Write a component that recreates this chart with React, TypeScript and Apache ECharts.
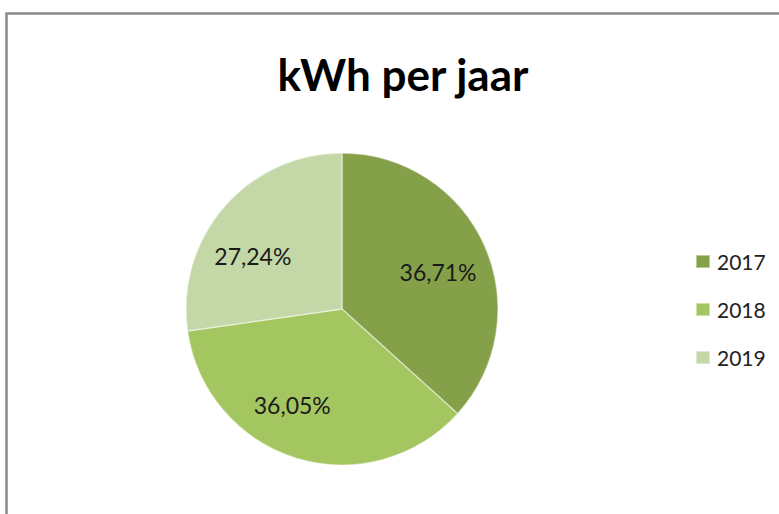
import React, { useEffect, useRef } from "react";
import * as echarts from "echarts";

const years = ["2017", "2018", "2019"];
const shares = [36.71, 36.05, 27.24];
const colors = ["#84a149", "#a4c661", "#c4d7a6"];
const labelOffsets: [number, number][] = [[22, -4], [-26, 19], [-28, 0]];

export default function App() {
  const ref = useRef<HTMLDivElement>(null);
  useEffect(() => {
    const chart = echarts.init(ref.current!, null, { renderer: "svg" });
    const font = "Lato, 'Open Sans', sans-serif";
    chart.setOption({
      animation: false,
      backgroundColor: "#ffffff",
      title: {
        text: "kWh per jaar",
        left: 398,
        textAlign: "center",
        top: 46,
        textStyle: { fontFamily: font, fontWeight: "bold", fontSize: 44, color: "#000", lineHeight: 46 },
      },
      legend: {
        orient: "vertical",
        left: 690,
        top: 246,
        itemWidth: 14,
        itemHeight: 13,
        itemGap: 27,
        icon: "rect",
        data: years,
        textStyle: { fontFamily: font, fontSize: 21, color: "#222", lineHeight: 21, padding: [0, 0, 0, 2] },
      },
      graphic: [
        {
          type: "rect",
          shape: { x: 6.5, y: 13.5, width: 820, height: 600 },
          style: { fill: "none", stroke: "#8a8a8a", lineWidth: 2.5 },
          silent: true,
        },
      ],
      series: [
        {
          type: "pie",
          center: [342, 309],
          radius: [0, 156],
          startAngle: 90,
          clockwise: true,
          silent: true,
          itemStyle: { borderColor: "rgba(255,255,255,0.45)", borderWidth: 1.5 },
          label: {
            show: true,
            position: "inside",
            fontFamily: font,
            fontSize: 23,
            color: "#1a1a1a",
            formatter: (p: any) => shares[p.dataIndex].toFixed(2).replace(".", ",") + "%",
          },
          labelLine: { show: false },
          data: years.map((y, i) => ({
            name: y,
            value: shares[i],
            itemStyle: { color: colors[i] },
            label: { offset: labelOffsets[i] },
          })),
        },
      ],
    });
    return () => chart.dispose();
  }, []);
  return <div ref={ref} style={{ position: "fixed", left: 0, top: 0, width: 779, height: 514 }} />;
}
